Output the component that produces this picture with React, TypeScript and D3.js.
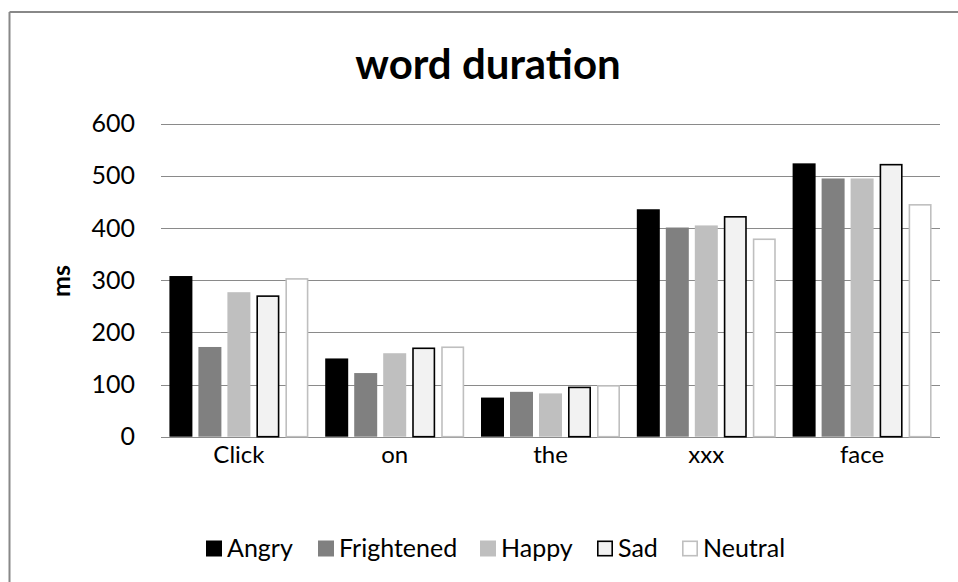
import React from "react";
import * as d3 from "d3";

const categories = ["Click", "on", "the", "xxx", "face"];
const seriesNames = ["Angry", "Frightened", "Happy", "Sad", "Neutral"];
const angry = [308, 150, 75, 436, 524];
const frightened = [172, 122, 86, 401, 495];
const happy = [277, 160, 83, 405, 495];
const sad = [271, 171, 96, 423, 523];
const neutral = [304, 173, 99, 380, 446];
const yTicks = [0, 100, 200, 300, 400, 500, 600];

const seriesValues = [angry, frightened, happy, sad, neutral];
const fills = ["#000000", "#808080", "#bfbfbf", "#f2f2f2", "#ffffff"];
const strokes = ["#000000", "#808080", "#bfbfbf", "#000000", "#bfbfbf"];
const strokeW = [0, 0, 0, 1.6, 1.6];

const W = 958;
const H = 582;
const FONT = "Lato, 'Open Sans', sans-serif";

export default function App() {
  const x0 = d3.scaleBand<string>().domain(categories).range([161, 940]).padding(0);
  const x1 = d3
    .scaleBand<string>()
    .domain(seriesNames)
    .range([0, x0.bandwidth()])
    .paddingInner(0.207)
    .paddingOuter(0.29);
  const y = d3.scaleLinear().domain([0, 600]).range([436.7, 123.7]);

  const legendX = [206, 318, 480, 597, 682];

  return (
    <svg
      width={W}
      height={H}
      style={{ position: "absolute", left: 0, top: 0, background: "#fff" }}
      fontFamily={FONT}
    >
      <rect x={0} y={0} width={W} height={H} fill="#fff" />
      {/* frame */}
      <line x1={9.5} x2={W + 5} y1={12} y2={12} stroke="#888" strokeWidth={2} />
      <line x1={9.5} x2={9.5} y1={12} y2={H + 5} stroke="#888" strokeWidth={2} />

      {/* title */}
      <text x={488} y={79} textAnchor="middle" fontSize={42} fontWeight="bold" fill="#000">
        word duration
      </text>

      {/* gridlines */}
      {yTicks.map((t) => (
        <line
          key={t}
          x1={161}
          x2={940}
          y1={Math.round(y(t)) + 0.5}
          y2={Math.round(y(t)) + 0.5}
          stroke="#8a8a8a"
          strokeWidth={1.2}
        />
      ))}
      {yTicks.map((t) => (
        <text key={"l" + t} x={135} y={y(t) + 8.5} textAnchor="end" fontSize={25} fill="#000">
          {t}
        </text>
      ))}

      <text
        transform={`translate(70,281) rotate(-90)`}
        textAnchor="middle"
        fontSize={25}
        fontWeight="bold"
        fill="#000"
      >
        ms
      </text>

      {/* bars */}
      {categories.map((c, ci) =>
        seriesNames.map((s, si) => {
          const v = seriesValues[si][ci];
          const sw = strokeW[si];
          const bx = (x0(c) as number) + (x1(s) as number);
          const bw = x1.bandwidth();
          return (
            <rect
              key={c + s}
              x={bx + sw / 2}
              y={y(v) + sw / 2}
              width={bw - sw}
              height={y(0) - y(v) - sw / 2}
              fill={fills[si]}
              stroke={sw > 0 ? strokes[si] : "none"}
              strokeWidth={sw}
            />
          );
        })
      )}

      {/* category labels */}
      {categories.map((c) => (
        <text
          key={"c" + c}
          x={(x0(c) as number) + x0.bandwidth() / 2}
          y={463}
          textAnchor="middle"
          fontSize={24}
          fill="#000"
        >
          {c}
        </text>
      ))}

      {/* legend */}
      {seriesNames.map((s, si) => {
        const lx = legendX[si];
        const sw = si >= 3 ? 1.6 : 0;
        return (
          <g key={"lg" + s}>
            <rect
              x={lx + sw / 2}
              y={540.5 + sw / 2}
              width={16 - sw}
              height={16 - sw}
              fill={fills[si]}
              stroke={sw > 0 ? strokes[si] : "none"}
              strokeWidth={sw}
            />
            <text x={lx + 21} y={557} fontSize={25} fill="#000">
              {s}
            </text>
          </g>
        );
      })}
    </svg>
  );
}
